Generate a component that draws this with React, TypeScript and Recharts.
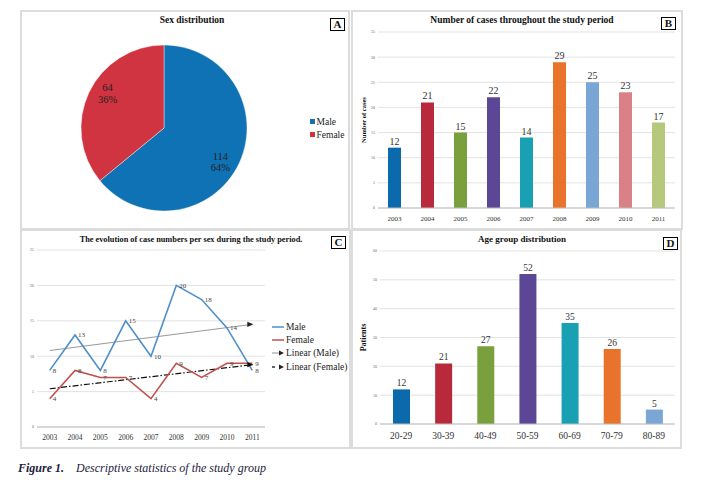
import React from 'react';
import {
  PieChart, Pie, Cell, BarChart, Bar, XAxis, YAxis, CartesianGrid, LabelList,
  LineChart, Line, Legend,
} from 'recharts';

// ---------- data ----------
const sexLabels = ['Male', 'Female'];
const sexCounts = [114, 64];
const sexPercents = ['64%', '36%'];
const sexColors = ['#0f72b4', '#cf3440'];

const years = ['2003', '2004', '2005', '2006', '2007', '2008', '2009', '2010', '2011'];
const casesPerYear = [12, 21, 15, 22, 14, 29, 25, 23, 17];
const yearColors = ['#0a6aab', '#b82a3b', '#7aa03d', '#5b4795', '#1aa0b3', '#e9732a', '#7aa6d6', '#da8087', '#b4c97c'];
const casesTicks = [0, 5, 10, 15, 20, 25, 30, 35];

const maleCases = [8, 13, 8, 15, 10, 20, 18, 14, 8];
const femaleCases = [4, 8, 7, 7, 4, 9, 7, 9, 9];
const maleTrend = [10.8, null, null, null, null, null, null, null, 14.5];
const femaleTrend = [5.4, null, null, null, null, null, null, null, 8.8];
const evolutionTicks = [0, 5, 10, 15, 20, 25];

const ageGroups = ['20-29', '30-39', '40-49', '50-59', '60-69', '70-79', '80-89'];
const agePatients = [12, 21, 27, 52, 35, 26, 5];
const ageColors = ['#0a6aab', '#b82a3b', '#7aa03d', '#5b4795', '#1aa0b3', '#e9732a', '#7aa6d6'];
const ageTicks = [0, 10, 20, 30, 40, 50, 60];

// ---------- derived tables ----------
const sexData = sexLabels.map((name, i) => ({ name, value: sexCounts[i], pct: sexPercents[i] }));
const yearData = years.map((year, i) => ({ year, cases: casesPerYear[i] }));
const evolutionData = years.map((year, i) => ({
  year, male: maleCases[i], female: femaleCases[i], maleTrend: maleTrend[i], femaleTrend: femaleTrend[i],
}));
const ageData = ageGroups.map((group, i) => ({ group, patients: agePatients[i] }));

const SERIF = '"Liberation Serif", "Times New Roman", serif';
const MALE_LINE = '#4f8fca';
const FEMALE_LINE = '#c0504d';

const panelStyle = (left: number, top: number, width: number, height: number): React.CSSProperties => ({
  position: 'absolute', left, top, width, height, border: '2px solid #dcdcdc', boxSizing: 'border-box', background: '#fff',
});

const chartBox = (left: number, top: number): React.CSSProperties => ({ position: 'absolute', left, top });

const Title = ({ text, cx, y, size }: { text: string; cx: number; y: number; size: number }) => (
  <div style={{
    position: 'absolute', left: cx - 200, top: y, width: 400, textAlign: 'center', fontFamily: SERIF,
    fontWeight: 'bold', fontSize: size, lineHeight: 1, color: '#111', whiteSpace: 'nowrap',
  }}>{text}</div>
);

const Badge = ({ letter, left, top }: { letter: string; left: number; top: number }) => (
  <div style={{
    position: 'absolute', left, top, width: 15, height: 13, border: '1px solid #000', boxSizing: 'border-box',
    fontFamily: SERIF, fontWeight: 'bold', fontSize: 11, lineHeight: '11px', textAlign: 'center', color: '#111', background: '#fff',
  }}>{letter}</div>
);

const RAD = Math.PI / 180;
const pieLabel = (props: any) => {
  const { cx, cy, midAngle, index } = props;
  const a = (midAngle - 6) * RAD;
  const r = 66;
  const x = cx + r * Math.cos(-a);
  const y = cy + r * Math.sin(-a);
  return (
    <text x={x} y={y} textAnchor="middle" fontFamily={SERIF} fontSize={10.5} fill="#222">
      <tspan x={x} dy="-0.25em">{sexCounts[index]}</tspan>
      <tspan x={x} dy="1.1em">{sexPercents[index]}</tspan>
    </text>
  );
};

const yLabel = (text: string, dx: number, size: number) => (props: any) => {
  const vb = props.viewBox || {};
  const x = (vb.x || 0) + dx;
  const y = (vb.y || 0) + (vb.height || 0) / 2;
  return (
    <text x={x} y={y} transform={`rotate(-90 ${x} ${y})`} textAnchor="middle" dominantBaseline="central"
      fontFamily={SERIF} fontWeight="bold" fontSize={size} fill="#111">{text}</text>
  );
};

const arrowDot = (color: string) => (props: any) => {
  const { cx, cy, index } = props;
  if (index !== years.length - 1 || cx == null || cy == null) return <g key={`d${index}`} />;
  return <path key={`d${index}`} d={`M${cx - 5},${cy - 2.6} L${cx + 1},${cy} L${cx - 5},${cy + 2.6} Z`} fill={color} />;
};

const tinyTick = { fontSize: 4, fill: '#666', fontFamily: SERIF };

const SexLegend = () => (
  <div style={{ fontFamily: SERIF, fontSize: 9.5, color: '#222' }}>
    {sexLabels.map((l, i) => (
      <div key={l} style={{ display: 'flex', alignItems: 'center', height: 13 }}>
        <span style={{ display: 'inline-block', width: 4.5, height: 4.5, background: sexColors[i], marginRight: 2 }} />
        {l}
      </div>
    ))}
  </div>
);

const legendItemsC = [
  { label: 'Male', kind: 'male' },
  { label: 'Female', kind: 'female' },
  { label: 'Linear (Male)', kind: 'tmale' },
  { label: 'Linear (Female)', kind: 'tfemale' },
];

const EvolutionLegend = () => (
  <div style={{ fontFamily: SERIF, fontSize: 9.5, color: '#222' }}>
    {legendItemsC.map((it) => (
      <div key={it.label} style={{ display: 'flex', alignItems: 'center', height: 13.3, whiteSpace: 'nowrap' }}>
        <svg width={13} height={8} style={{ marginRight: 1 }}>
          {it.kind === 'male' && <line x1={0} y1={4} x2={12} y2={4} stroke={MALE_LINE} strokeWidth={1.5} />}
          {it.kind === 'female' && <line x1={0} y1={4} x2={12} y2={4} stroke={FEMALE_LINE} strokeWidth={1.5} />}
          {it.kind === 'tmale' && (<g><line x1={0} y1={4} x2={8} y2={4} stroke="#888" strokeWidth={0.9} /><path d="M7,1.5 L12,4 L7,6.5 Z" fill="#222" /></g>)}
          {it.kind === 'tfemale' && (<g><line x1={0} y1={4} x2={3} y2={4} stroke="#111" strokeWidth={1.3} /><path d="M7,1.5 L12,4 L7,6.5 Z" fill="#222" /></g>)}
        </svg>
        {it.label}
      </div>
    ))}
  </div>
);

export default function App() {
  return (
    <div style={{ position: 'fixed', left: 0, top: 0, width: 703, height: 489, background: '#fff', overflow: 'hidden' }}>
      {/* panel frames */}
      <div style={panelStyle(20, 10, 330, 220)} />
      <div style={panelStyle(351, 10, 332, 220)} />
      <div style={panelStyle(20, 229, 331, 220)} />
      <div style={panelStyle(351, 229, 331, 220)} />

      {/* A: Sex distribution */}
      <div style={chartBox(21, 11)}>
        <PieChart width={326} height={216} margin={{ top: 0, right: 0, bottom: 0, left: 0 }}>
          <Pie data={sexData} dataKey="value" nameKey="name" cx={143} cy={117} outerRadius={83}
            startAngle={90} endAngle={-270} isAnimationActive={false} label={pieLabel} labelLine={false}
            stroke="#ffffff" strokeWidth={0.4}>
            {sexData.map((d, i) => <Cell key={d.name} fill={sexColors[i]} />)}
          </Pie>
          <Legend layout="vertical" align="center" verticalAlign="middle" content={() => <SexLegend />}
            wrapperStyle={{ left: 289, top: 104, width: 40 }} />
        </PieChart>
      </div>
      <Title text="Sex distribution" cx={192} y={16} size={9.5} />
      <Badge letter="A" left={330} top={18} />

      {/* B: Number of cases */}
      <div style={chartBox(352, 11)}>
        <BarChart width={330} height={216} data={yearData} margin={{ top: 21, right: 7, bottom: 0, left: 0 }}>
          <CartesianGrid vertical={false} stroke="#dadada" strokeWidth={0.8} />
          <XAxis dataKey="year" height={19} tickLine={false} axisLine={{ stroke: '#bdbdbd' }}
            tick={{ fontSize: 7, fill: '#333', fontFamily: SERIF }} interval={0} />
          <YAxis width={26} domain={[0, 35]} ticks={casesTicks} axisLine={false} tickLine={false}
            tickSize={2} tickMargin={1} tick={tinyTick} interval={0}
            label={{ content: yLabel('Number of cases', 11, 6.5) }} />
          <Bar dataKey="cases" barSize={13} isAnimationActive={false}>
            {yearData.map((d, i) => <Cell key={d.year} fill={yearColors[i]} />)}
            <LabelList dataKey="cases" position="top" offset={3} fontSize={10} fill="#333" fontFamily={SERIF} />
          </Bar>
        </BarChart>
      </div>
      <Title text="Number of cases throughout the study period" cx={522} y={16} size={9.5} />
      <Badge letter="B" left={661} top={17} />

      {/* C: evolution per sex */}
      <div style={chartBox(21, 230)}>
        <LineChart width={329} height={216} data={evolutionData} margin={{ top: 20, right: 85, bottom: 0, left: 0 }}>
          <CartesianGrid vertical={false} stroke="#dadada" strokeWidth={0.8} />
          <XAxis dataKey="year" height={19} tickLine={false} axisLine={{ stroke: '#bdbdbd' }}
            padding={{ left: 12.7, right: 12.7 }}
            tick={{ fontSize: 7.5, fill: '#333', fontFamily: SERIF }} interval={0} />
          <YAxis width={16} domain={[0, 25]} ticks={evolutionTicks} axisLine={false} tickLine={false}
            tickSize={2} tickMargin={1} tick={tinyTick} interval={0} />
          <Line dataKey="maleTrend" stroke="#8c8c8c" strokeWidth={0.9} connectNulls dot={arrowDot('#222')}
            isAnimationActive={false} legendType="none" />
          <Line dataKey="femaleTrend" stroke="#111" strokeWidth={1.2} strokeDasharray="6 2 1.5 2" connectNulls
            dot={arrowDot('#111')} isAnimationActive={false} legendType="none" />
          <Line dataKey="male" stroke={MALE_LINE} strokeWidth={1.6} dot={false} isAnimationActive={false}>
            <LabelList dataKey="male" position="right" offset={3} fontSize={7} fill="#444" fontFamily={SERIF} />
          </Line>
          <Line dataKey="female" stroke={FEMALE_LINE} strokeWidth={1.6} dot={false} isAnimationActive={false}>
            <LabelList dataKey="female" position="right" offset={3} fontSize={7} fill="#444" fontFamily={SERIF} />
          </Line>
          <Legend layout="vertical" align="center" verticalAlign="middle" content={() => <EvolutionLegend />}
            wrapperStyle={{ left: 251, top: 90, width: 80 }} />
        </LineChart>
      </div>
      <Title text="The evolution of case numbers per sex during the study period." cx={191} y={236} size={8.3} />
      <Badge letter="C" left={331} top={236} />

      {/* D: Age groups */}
      <div style={chartBox(352, 230)}>
        <BarChart width={330} height={216} data={ageData} margin={{ top: 21, right: 7, bottom: 0, left: 0 }}>
          <CartesianGrid vertical={false} stroke="#dadada" strokeWidth={0.8} />
          <XAxis dataKey="group" height={22} tickLine={false} axisLine={{ stroke: '#bdbdbd' }}
            tick={{ fontSize: 9.5, fill: '#333', fontFamily: SERIF }} interval={0} />
          <YAxis width={28} domain={[0, 60]} ticks={ageTicks} axisLine={false} tickLine={false}
            tickSize={2} tickMargin={1} tick={tinyTick} interval={0}
            label={{ content: yLabel('Patients', 11, 8) }} />
          <Bar dataKey="patients" barSize={17} isAnimationActive={false}>
            {ageData.map((d, i) => <Cell key={d.group} fill={ageColors[i]} />)}
            <LabelList dataKey="patients" position="top" offset={3} fontSize={9.5} fill="#333" fontFamily={SERIF} />
          </Bar>
        </BarChart>
      </div>
      <Title text="Age group distribution" cx={522} y={235} size={9} />
      <Badge letter="D" left={663} top={237} />

      {/* caption */}
      <div style={{ position: 'absolute', left: 18, top: 461, fontFamily: SERIF, fontStyle: 'italic', fontSize: 12, color: '#1c1c3c', whiteSpace: 'nowrap' }}>
        <span style={{ fontWeight: 'bold' }}>Figure 1.</span>
        <span style={{ marginLeft: 12 }}>Descriptive statistics of the study group</span>
      </div>
    </div>
  );
}
